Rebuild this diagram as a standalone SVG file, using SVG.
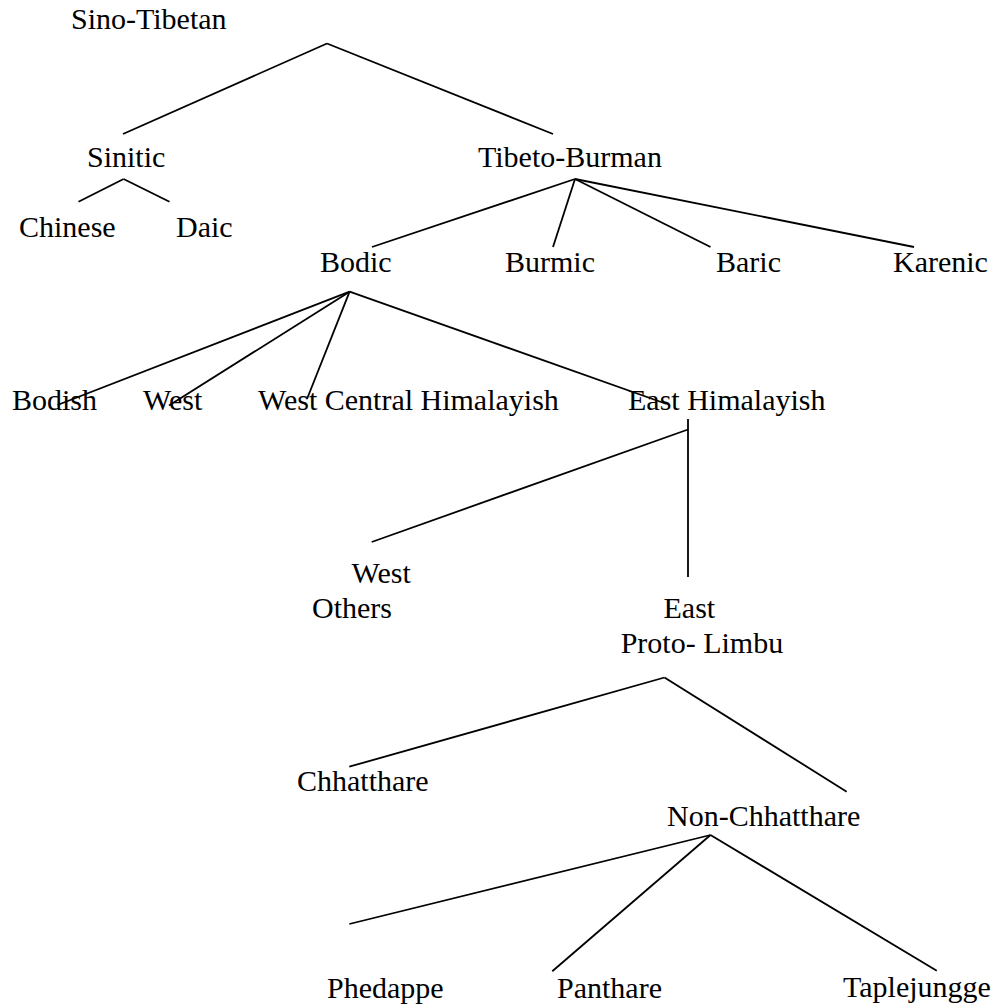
<svg xmlns="http://www.w3.org/2000/svg" width="998" height="1006" viewBox="0 0 998 1006">
  <style>
    text { font-family: "Liberation Serif", "Times New Roman", serif; font-size: 30px; fill: #000; }
    .edge { stroke: #000; stroke-width: 1.8; fill: none; stroke-linecap: butt; }
  </style>
  <rect x="0" y="0" width="998" height="1006" fill="#fff"/>
  <g id="connectors">
    <line class="edge" x1="327" y1="43.5" x2="123" y2="134"/>
    <line class="edge" x1="327" y1="43.5" x2="553" y2="134"/>
    <line class="edge" x1="123.6" y1="179" x2="78.5" y2="201.7"/>
    <line class="edge" x1="123.6" y1="179" x2="169.5" y2="201.7"/>
    <line class="edge" x1="575" y1="179" x2="372" y2="247"/>
    <line class="edge" x1="575" y1="179" x2="553" y2="247"/>
    <line class="edge" x1="575" y1="179" x2="710.5" y2="247"/>
    <line class="edge" x1="575" y1="179" x2="914" y2="247"/>
    <line class="edge" x1="349.6" y1="291.7" x2="57.5" y2="405"/>
    <line class="edge" x1="349.6" y1="291.7" x2="169" y2="405.5"/>
    <line class="edge" x1="349.6" y1="291.7" x2="307" y2="399"/>
    <line class="edge" x1="349.6" y1="291.7" x2="666.7" y2="404"/>
    <line class="edge" x1="688" y1="419" x2="688" y2="577"/>
    <line class="edge" x1="688" y1="429.5" x2="371.7" y2="542"/>
    <line class="edge" x1="664.5" y1="677.5" x2="349.3" y2="766.7"/>
    <line class="edge" x1="664.5" y1="677.5" x2="846.7" y2="791.7"/>
    <line class="edge" x1="710.5" y1="835" x2="349.3" y2="924"/>
    <line class="edge" x1="710.5" y1="835" x2="552.3" y2="971.3"/>
    <line class="edge" x1="710.5" y1="835" x2="936.8" y2="970.8"/>
  </g>
  <g id="sino-tibetan"><text x="71" y="29">Sino-Tibetan</text></g>
  <g id="sinitic"><text x="87" y="167">Sinitic</text></g>
  <g id="tibeto-burman"><text x="478" y="167">Tibeto-Burman</text></g>
  <g id="chinese"><text x="19" y="237">Chinese</text></g>
  <g id="daic"><text x="176" y="237">Daic</text></g>
  <g id="bodic"><text x="320" y="272">Bodic</text></g>
  <g id="burmic"><text x="505" y="272">Burmic</text></g>
  <g id="baric"><text x="716" y="272">Baric</text></g>
  <g id="karenic"><text x="893" y="272">Karenic</text></g>
  <g id="bodish"><text x="12" y="410">Bodish</text></g>
  <g id="west"><text x="143" y="410">West</text></g>
  <g id="west-central-himalayish"><text x="258" y="410">West Central Himalayish</text></g>
  <g id="east-himalayish"><text x="628" y="410">East Himalayish</text></g>
  <g id="west-others"><text x="351.5" y="582.5">West</text><text x="312" y="617.5">Others</text></g>
  <g id="east-proto-limbu"><text x="663.5" y="618">East</text><text x="620.7" y="652.7">Proto- Limbu</text></g>
  <g id="chhatthare"><text x="297" y="791">Chhatthare</text></g>
  <g id="non-chhatthare"><text x="667" y="826">Non-Chhatthare</text></g>
  <g id="phedappe"><text x="327" y="998">Phedappe</text></g>
  <g id="panthare"><text x="557" y="998">Panthare</text></g>
  <g id="taplejungge"><text x="843" y="997">Taplejungge</text></g>
</svg>
